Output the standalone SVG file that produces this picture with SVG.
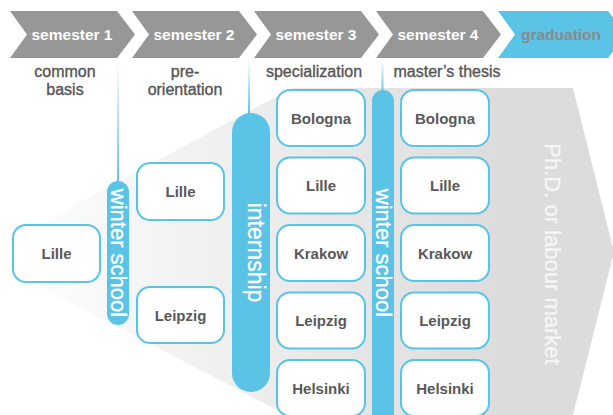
<svg xmlns="http://www.w3.org/2000/svg" width="613" height="415" viewBox="0 0 613 415">
<defs>
<linearGradient id="bg" gradientUnits="userSpaceOnUse" x1="0" y1="0" x2="500" y2="0">
<stop offset="0" stop-color="#ffffff"/>
<stop offset="1" stop-color="#dcdcdc"/>
</linearGradient>
<linearGradient id="ln" x1="0" y1="0" x2="0" y2="1">
<stop offset="0" stop-color="#ffffff"/>
<stop offset="1" stop-color="#5bc4e6"/>
</linearGradient>
<style>
.chev{fill:#979797}
.chevg{fill:#5bc4e6}
.ct{font-family:"Liberation Sans",Arial,sans-serif;font-weight:bold;font-size:15.5px;fill:#ffffff;text-anchor:middle}
.sub{font-family:"Liberation Sans",Arial,sans-serif;font-size:16px;fill:#555555;stroke:#555555;stroke-width:0.35px;text-anchor:middle}
.box{fill:#ffffff;stroke:#5bc4e6;stroke-width:2}
.bt{font-family:"Liberation Sans",Arial,sans-serif;font-weight:bold;font-size:15px;fill:#595959;text-anchor:middle}
.pill{fill:#5bc4e6}
.pt{font-family:"Liberation Sans",Arial,sans-serif;fill:#ffffff;stroke:#ffffff;stroke-width:0.3px;text-anchor:middle}
</style>
</defs>
<rect width="613" height="415" fill="#ffffff"/>
<polygon id="funnel" points="-19,256 292,88 573,88 614,252 573,415 287,415" fill="url(#bg)"/>
<g id="header">
<g id="sem1"><polygon class="chev" points="10,11 117,11 135,34.5 117,58 10,58 27,34.5"/><text class="ct" x="72" y="40">semester 1</text></g>
<g id="sem2"><polygon class="chev" points="132,11 239,11 257,34.5 239,58 132,58 149,34.5"/><text class="ct" x="194" y="40">semester 2</text></g>
<g id="sem3"><polygon class="chev" points="254,11 361,11 379,34.5 361,58 254,58 271,34.5"/><text class="ct" x="316" y="40">semester 3</text></g>
<g id="sem4"><polygon class="chev" points="376,11 483,11 501,34.5 483,58 376,58 393,34.5"/><text class="ct" x="438" y="40">semester 4</text></g>
<g id="graduation"><polygon class="chevg" points="498,11 608,11 626,34.5 608,58 498,58 515,34.5"/><text class="ct" x="561" y="40" style="fill:#8a8a8a">graduation</text></g>
</g>
<g id="subtitles">
<text class="sub" x="65" y="77">common</text>
<text class="sub" x="65" y="95">basis</text>
<text class="sub" x="185" y="77">pre-</text>
<text class="sub" x="185" y="95">orientation</text>
<text class="sub" x="314" y="77">specialization</text>
<text class="sub" x="447" y="77">master’s thesis</text>
</g>
<g id="connectors">
<rect x="117" y="60" width="2" height="122" fill="url(#ln)"/>
<rect x="248" y="60" width="2" height="55" fill="url(#ln)"/>
<rect x="381.5" y="60" width="2" height="32" fill="url(#ln)"/>
</g>
<g id="winter1"><rect class="pill" x="107" y="181" width="22" height="144" rx="11"/><text class="pt" font-size="22" transform="translate(118,253) rotate(90)" x="0" y="7.5">winter school</text></g>
<g id="internship"><rect class="pill" x="232" y="113" width="38" height="279" rx="19"/><text class="pt" font-size="23" transform="translate(251,252.5) rotate(90)" x="0" y="3.5">internship</text></g>
<g id="winter2"><rect class="pill" x="372" y="90" width="22" height="345" rx="11"/><text class="pt" font-size="22" transform="translate(383,253) rotate(90)" x="0" y="7.5">winter school</text></g>
<g id="outcome"><text class="pt" font-size="22" style="fill:#f6f6f6;stroke:#f6f6f6" transform="translate(552,254) rotate(90)" x="0" y="7">Ph.D. or labour market</text></g>
<g id="s1-lille"><rect class="box" x="13" y="225" width="87" height="57" rx="13"/><text class="bt" x="56.5" y="259">Lille</text></g>
<g id="s2-lille"><rect class="box" x="137" y="163" width="87" height="57" rx="13"/><text class="bt" x="180.5" y="197">Lille</text></g>
<g id="s2-leipzig"><rect class="box" x="137" y="287" width="87" height="56" rx="13"/><text class="bt" x="180.5" y="320.5">Leipzig</text></g>
<g id="s3-bologna"><rect class="box" x="277" y="90" width="88" height="56" rx="13"/><text class="bt" x="321" y="123.5">Bologna</text></g>
<g id="s3-lille"><rect class="box" x="277" y="157.5" width="88" height="56" rx="13"/><text class="bt" x="321" y="191">Lille</text></g>
<g id="s3-krakow"><rect class="box" x="277" y="225" width="88" height="56" rx="13"/><text class="bt" x="321" y="258.5">Krakow</text></g>
<g id="s3-leipzig"><rect class="box" x="277" y="292.5" width="88" height="56" rx="13"/><text class="bt" x="321" y="326">Leipzig</text></g>
<g id="s3-helsinki"><rect class="box" x="277" y="360" width="88" height="56" rx="13"/><text class="bt" x="321" y="393.5">Helsinki</text></g>
<g id="s4-bologna"><rect class="box" x="401" y="90" width="88" height="56" rx="13"/><text class="bt" x="445" y="123.5">Bologna</text></g>
<g id="s4-lille"><rect class="box" x="401" y="157.5" width="88" height="56" rx="13"/><text class="bt" x="445" y="191">Lille</text></g>
<g id="s4-krakow"><rect class="box" x="401" y="225" width="88" height="56" rx="13"/><text class="bt" x="445" y="258.5">Krakow</text></g>
<g id="s4-leipzig"><rect class="box" x="401" y="292.5" width="88" height="56" rx="13"/><text class="bt" x="445" y="326">Leipzig</text></g>
<g id="s4-helsinki"><rect class="box" x="401" y="360" width="88" height="56" rx="13"/><text class="bt" x="445" y="393.5">Helsinki</text></g>
</svg>
